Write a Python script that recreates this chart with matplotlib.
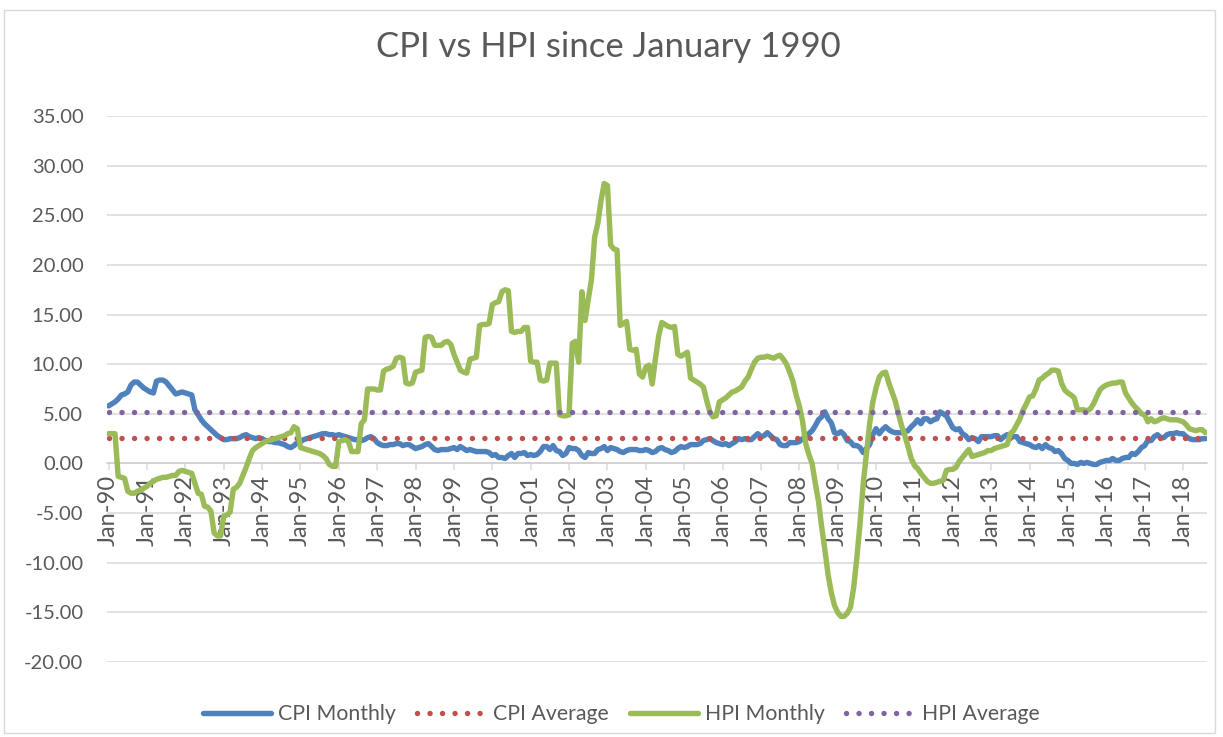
import numpy as np
import pandas as pd
import matplotlib.pyplot as plt
from matplotlib.patches import Rectangle
from matplotlib.ticker import FormatStrFormatter

plt.rcParams['font.family'] = ['Lato', 'DejaVu Sans']

# annual % change, monthly, Jan 1990 - Aug 2018
cpi_monthly = [
    5.8, 6.0, 6.2, 6.5, 6.9, 7.0, 7.2, 7.9, 8.2, 8.2, 7.9, 7.6,   # 1990
    7.4, 7.2, 7.1, 8.3, 8.4, 8.4, 8.2, 7.8, 7.4, 7.0, 7.1, 7.2,   # 1991
    7.1, 7.0, 6.9, 5.4, 4.9, 4.4, 4.0, 3.7, 3.4, 3.1, 2.8, 2.6,   # 1992
    2.4, 2.4, 2.5, 2.5, 2.5, 2.6, 2.8, 2.9, 2.7, 2.6, 2.5, 2.6,   # 1993
    2.5, 2.3, 2.2, 2.2, 2.1, 2.1, 2.0, 1.9, 1.7, 1.6, 1.8, 2.1,   # 1994
    2.2, 2.4, 2.5, 2.6, 2.7, 2.8, 2.9, 3.0, 3.0, 2.9, 2.9, 2.8,   # 1995
    2.9, 2.8, 2.7, 2.6, 2.5, 2.4, 2.4, 2.3, 2.4, 2.6, 2.7, 2.5,   # 1996
    2.1, 1.9, 1.8, 1.8, 1.9, 1.9, 2.0, 2.0, 1.8, 1.9, 1.9, 1.7,   # 1997
    1.5, 1.6, 1.7, 1.9, 2.0, 1.7, 1.4, 1.3, 1.4, 1.4, 1.4, 1.5,   # 1998
    1.6, 1.4, 1.7, 1.5, 1.3, 1.4, 1.3, 1.2, 1.2, 1.2, 1.2, 1.1,   # 1999
    0.8, 0.9, 0.6, 0.6, 0.5, 0.8, 1.0, 0.6, 1.0, 1.0, 1.1, 0.8,   # 2000
    0.9, 0.8, 0.9, 1.2, 1.7, 1.7, 1.4, 1.8, 1.3, 1.2, 0.8, 1.0,   # 2001
    1.6, 1.5, 1.5, 1.3, 0.8, 0.6, 1.1, 1.0, 1.0, 1.4, 1.5, 1.7,   # 2002
    1.3, 1.6, 1.5, 1.4, 1.2, 1.1, 1.3, 1.4, 1.4, 1.4, 1.3, 1.3,   # 2003
    1.4, 1.3, 1.1, 1.2, 1.5, 1.6, 1.4, 1.3, 1.1, 1.2, 1.5, 1.7,   # 2004
    1.6, 1.7, 1.9, 1.9, 1.9, 2.0, 2.3, 2.4, 2.5, 2.3, 2.1, 2.0,   # 2005
    1.9, 2.0, 1.8, 2.0, 2.2, 2.5, 2.4, 2.5, 2.4, 2.4, 2.7, 3.0,   # 2006
    2.7, 2.8, 3.1, 2.8, 2.5, 2.4, 1.9, 1.8, 1.8, 2.1, 2.1, 2.1,   # 2007
    2.2, 2.5, 2.5, 3.0, 3.3, 3.8, 4.4, 4.7, 5.2, 4.5, 4.1, 3.1,   # 2008
    3.0, 3.2, 2.9, 2.3, 2.2, 1.8, 1.8, 1.6, 1.1, 1.5, 1.9, 2.9,   # 2009
    3.5, 3.0, 3.4, 3.7, 3.4, 3.2, 3.1, 3.1, 3.1, 3.2, 3.3, 3.7,   # 2010
    4.0, 4.4, 4.0, 4.5, 4.5, 4.2, 4.4, 4.5, 5.2, 5.0, 4.8, 4.2,   # 2011
    3.6, 3.4, 3.5, 3.0, 2.8, 2.4, 2.6, 2.5, 2.2, 2.7, 2.7, 2.7,   # 2012
    2.7, 2.8, 2.8, 2.4, 2.7, 2.9, 2.8, 2.7, 2.7, 2.2, 2.1, 2.0,   # 2013
    1.9, 1.7, 1.6, 1.8, 1.5, 1.9, 1.6, 1.5, 1.2, 1.3, 1.0, 0.5,   # 2014
    0.3, 0.0, 0.0, -0.1, 0.1, 0.0, 0.1, 0.0, -0.1, -0.1, 0.1, 0.2,  # 2015
    0.3, 0.3, 0.5, 0.3, 0.3, 0.5, 0.6, 0.6, 1.0, 0.9, 1.2, 1.6,   # 2016
    1.8, 2.3, 2.3, 2.7, 2.9, 2.6, 2.6, 2.9, 3.0, 3.0, 3.1, 3.0,   # 2017
    3.0, 2.7, 2.5, 2.4, 2.4, 2.4, 2.5, 2.5,                       # 2018
]

hpi_monthly = [
    3.0, 3.0, 3.0, -1.3, -1.4, -1.5, -2.8, -3.0, -3.0, -2.8, -2.7, -2.5,     # 1990
    -2.3, -2.0, -1.8, -1.6, -1.5, -1.4, -1.4, -1.3, -1.2, -1.2, -0.8, -0.7,  # 1991
    -0.8, -0.9, -1.0, -2.0, -3.0, -3.1, -4.3, -4.4, -4.8, -7.0, -7.3, -7.3,  # 1992
    -5.3, -5.2, -4.9, -2.6, -2.4, -2.0, -1.2, -0.4, 0.5, 1.3, 1.6, 1.8,      # 1993
    2.0, 2.2, 2.3, 2.4, 2.5, 2.6, 2.7, 2.8, 3.0, 3.1, 3.7, 3.5,              # 1994
    1.6, 1.5, 1.4, 1.3, 1.2, 1.1, 1.0, 0.8, 0.5, -0.1, -0.3, -0.3,           # 1995
    2.2, 2.3, 2.4, 2.2, 1.2, 1.2, 1.2, 4.0, 4.4, 7.5, 7.5, 7.5,              # 1996
    7.4, 7.4, 9.3, 9.5, 9.6, 9.8, 10.6, 10.7, 10.6, 8.1, 8.0, 8.1,           # 1997
    9.2, 9.3, 9.4, 12.7, 12.8, 12.7, 11.9, 11.9, 11.9, 12.2, 12.3, 12.0,     # 1998
    11.0, 10.2, 9.4, 9.2, 9.1, 10.5, 10.6, 10.7, 13.9, 14.0, 14.0, 14.1,     # 1999
    16.0, 16.2, 16.3, 17.3, 17.5, 17.4, 13.3, 13.2, 13.3, 13.3, 13.7, 13.7,  # 2000
    10.3, 10.2, 10.2, 8.4, 8.3, 8.4, 10.1, 10.1, 10.1, 4.9, 4.8, 4.8,        # 2001
    4.9, 12.1, 12.3, 10.2, 17.3, 14.4, 16.5, 18.5, 22.8, 24.2, 26.5, 28.2,   # 2002
    28.0, 22.0, 21.6, 21.5, 13.9, 14.1, 14.3, 11.5, 11.4, 11.5, 9.0, 8.7,    # 2003
    9.7, 9.9, 8.0, 10.5, 12.8, 14.2, 14.0, 13.8, 13.7, 13.8, 11.0, 10.8,     # 2004
    11.0, 11.2, 8.6, 8.4, 8.2, 8.0, 7.7, 6.4, 5.2, 4.7, 4.8, 6.2,            # 2005
    6.4, 6.6, 6.9, 7.2, 7.3, 7.5, 7.7, 8.3, 8.7, 9.5, 10.2, 10.6,            # 2006
    10.7, 10.7, 10.8, 10.7, 10.6, 10.8, 10.9, 10.5, 10.0, 9.2, 8.3, 6.9,     # 2007
    5.8, 4.3, 2.0, 0.9, 0.0, -2.0, -3.8, -6.4, -8.7, -11.2, -13.0, -14.3,    # 2008
    -15.0, -15.4, -15.4, -15.1, -14.5, -12.5, -9.5, -6.0, -2.0, 1.0, 4.0, 6.2,  # 2009
    7.6, 8.7, 9.1, 9.2, 8.1, 7.2, 6.3, 5.0, 3.8, 2.8, 1.7, 0.5,              # 2010
    -0.2, -0.5, -1.0, -1.4, -1.8, -2.0, -2.0, -1.9, -1.8, -1.7, -0.7, -0.6,  # 2011
    -0.6, -0.4, 0.2, 0.6, 1.0, 1.4, 0.7, 0.8, 0.9, 1.0, 1.1, 1.3,            # 2012
    1.3, 1.5, 1.6, 1.7, 1.8, 1.9, 3.0, 3.3, 3.9, 4.5, 5.4, 6.0,              # 2013
    6.7, 6.8, 7.5, 8.4, 8.6, 8.9, 9.1, 9.4, 9.4, 9.3, 8.1, 7.4,              # 2014
    7.1, 6.9, 6.6, 5.4, 5.4, 5.4, 5.3, 5.5, 6.0, 6.7, 7.4, 7.7,              # 2015
    7.9, 8.0, 8.1, 8.1, 8.2, 8.2, 7.1, 6.6, 6.1, 5.7, 5.4, 5.0,              # 2016
    4.9, 4.2, 4.5, 4.2, 4.3, 4.5, 4.6, 4.5, 4.4, 4.4, 4.4, 4.3,              # 2017
    4.2, 3.9, 3.5, 3.4, 3.3, 3.4, 3.4, 3.1,                                  # 2018
]

cpi_average = 2.6
hpi_average = 5.15

months = pd.date_range('1990-01-01', periods=len(cpi_monthly), freq='MS')
x = np.arange(len(months))

grey_text = '#595959'
grid_col = '#d9d9d9'

fig = plt.figure(figsize=(12.23, 7.37), dpi=100)
ax = fig.add_axes([107 / 1223, 1 - 662 / 737, 1100 / 1223, 546 / 737])

# category axis crosses at zero (set before the ticks, it resets them)
ax.spines['bottom'].set_position(('data', 0))
ax.spines['bottom'].set_color('#d0d0d0')
ax.spines['bottom'].set_linewidth(1.1)
for s in ['left', 'right', 'top']:
    ax.spines[s].set_visible(False)

lw = 3.9
dots = (0, (0.01, 2.3))
ax.plot(x, cpi_monthly, color='#4f81bd', lw=lw, solid_joinstyle='round',
        solid_capstyle='round', label='CPI Monthly', zorder=3)
ax.plot(x, np.full(len(x), cpi_average), color='#c0504d', lw=lw, linestyle=dots,
        dash_capstyle='round', label='CPI Average', zorder=3)
ax.plot(x, hpi_monthly, color='#9bbb59', lw=lw, solid_joinstyle='round',
        solid_capstyle='round', label='HPI Monthly', zorder=3)
ax.plot(x, np.full(len(x), hpi_average), color='#8064a2', lw=lw, linestyle=dots,
        dash_capstyle='round', label='HPI Average', zorder=3)

# y axis
ax.set_ylim(-20, 35)
ax.set_yticks(np.arange(-20, 36, 5))
ax.yaxis.set_major_formatter(FormatStrFormatter('%.2f'))
ax.grid(axis='y', color=grid_col, lw=1.1, zorder=0)
ax.tick_params(axis='y', length=0, pad=17, labelsize=14.5, labelcolor=grey_text)

# x axis
ax.set_xlim(-0.5, len(x) - 0.5)
ax.set_xticks(x[::12])
ax.set_xticklabels(months[::12].strftime('%b-%y'))
ax.tick_params(axis='x', length=5, width=1.1, color=grid_col, pad=3,
               labelsize=17, labelcolor=grey_text, labelrotation=90)

fig.text(608 / 1223, 1 - 47 / 737, 'CPI vs HPI since January 1990',
         ha='center', va='center', fontsize=25, color=grey_text)

fig.legend(loc='center', bbox_to_anchor=(621 / 1223, 1 - 714 / 737), ncol=4,
           frameon=False, fontsize=15.3, handlelength=3.2, handletextpad=0.35,
           columnspacing=1.0, labelcolor=grey_text)

fig.patches.append(Rectangle((4 / 1223, 1 - 733 / 737), 1211 / 1223, 723 / 737,
                             transform=fig.transFigure, fill=False,
                             edgecolor=grid_col, lw=1.0))

fig.savefig('out.png', dpi=100)
